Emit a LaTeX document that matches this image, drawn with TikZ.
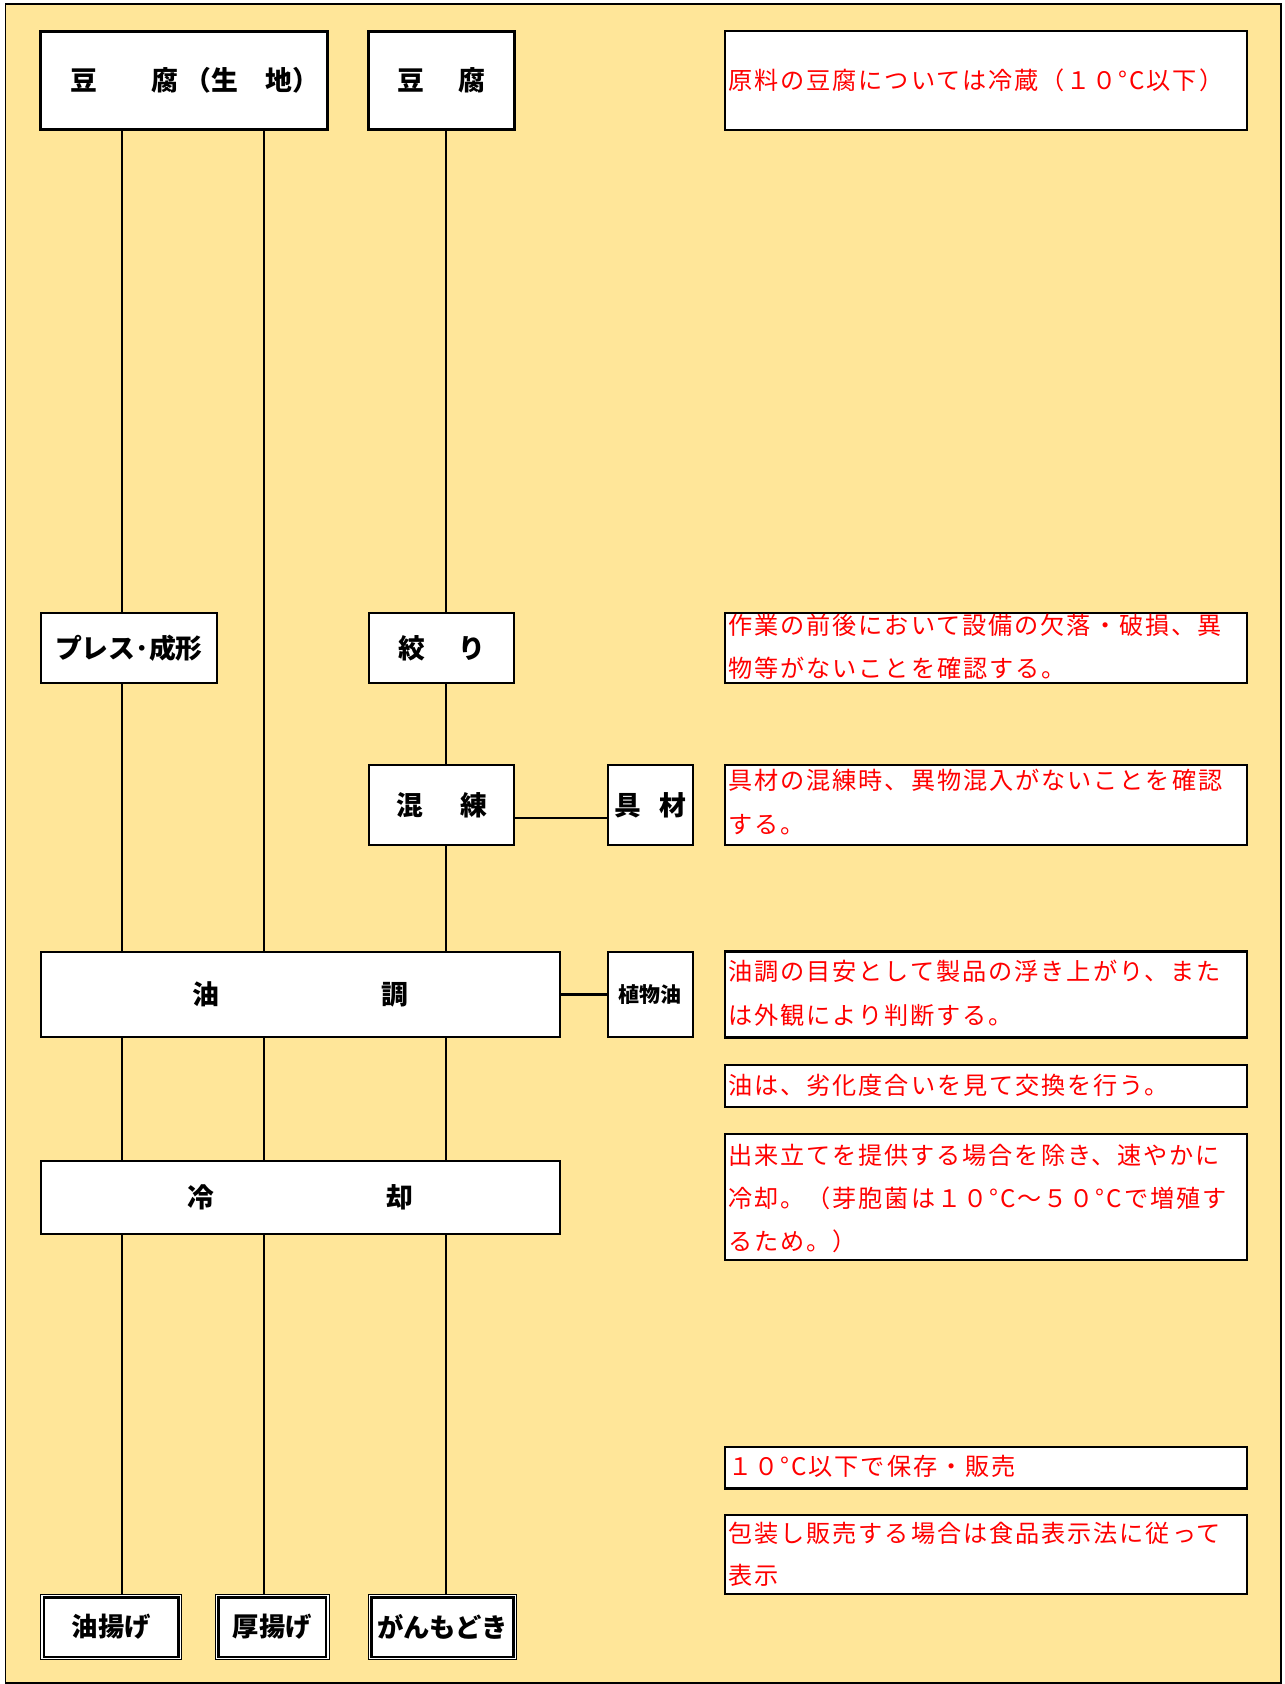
\documentclass[tikz,border=0pt]{standalone}
\usepackage{fontspec}
\setmainfont{Noto Sans CJK JP}
\newfontfamily\notefont[LetterSpace=8]{Noto Sans CJK JP}
\usetikzlibrary{calc}
\definecolor{bgyellow}{RGB}{255,230,153}
\definecolor{notered}{RGB}{255,0,0}
\begin{document}
\begin{tikzpicture}[x=1pt,y=-1pt,
  box/.style={draw=black, fill=white, line width=1.9pt, inner sep=0pt,
    font=\fontsize{25}{30}\selectfont\bfseries},
  topbox/.style={box, line width=2.8pt},
  endbox/.style={box, line width=1.1pt, font=\fontsize{24.5}{28}\selectfont\bfseries},
  notebox/.style={draw=black, fill=white, line width=2pt, inner sep=0pt},
  notetext/.style={anchor=base west, inner sep=0pt, text=notered,
    font=\notefont\fontsize{22.5}{40}\selectfont},
  link/.style={line width=1.9pt},
  inner/.style={line width=2.4pt}
]
\useasboundingbox (0,0) rectangle (1196,1568);
\draw[fill=bgyellow, line width=1.6pt] (5,4) rectangle (1193,1567);

% process boxes
\node[topbox, minimum width=267, minimum height=92] (A) at (171.5,75)
  {\hspace*{20pt}豆\hspace{2em}腐\hspace{0.25em}（生　地）};
\node[topbox, minimum width=136, minimum height=92] (B) at (411,75)
  {豆\hspace{1.3em}腐};
\node[box, minimum width=164, minimum height=65] (P) at (120,603.5) {プレス･成形};
\node[box, minimum width=135, minimum height=65] (S) at (411.5,603.5) {絞\hspace{1.2em}り};
\node[box, minimum width=135, minimum height=75] (K) at (411.5,749.5) {混\hspace{1.4em}練};
\node[box, minimum width=79, minimum height=75] (G) at (605.5,749.5) {具\hspace{0.65em}材};
\node[box, minimum width=483, minimum height=80] (Y) at (279.5,926) {油\hspace{151pt}調};
\node[box, minimum width=79, minimum height=80, font=\fontsize{19.5}{24}\selectfont\bfseries] (V) at (605.5,926) {植物油};
\node[box, minimum width=483, minimum height=68] (R) at (279.5,1115) {冷\hspace{160pt}却};
\node[endbox, minimum width=131, minimum height=61] (O1) at (103.5,1515) {油揚げ};
\node[endbox, minimum width=106, minimum height=61] (O2) at (253.5,1515) {厚揚げ};
\node[endbox, minimum width=138, minimum height=61] (O3) at (412,1515) {がんもどき};
\foreach \b in {O1,O2,O3}
  \draw[inner] ($(\b.south west)+(3.4pt,3.4pt)$) rectangle ($(\b.north east)+(-3.4pt,-3.4pt)$);

% connectors
\coordinate (c1) at (114,0);
\coordinate (c2) at (246,0);
\coordinate (c3) at (415,0);
\coordinate (h1) at (0,762);
\draw[link] (A.south -| c1) -- (P.north -| c1);
\draw[link] (P.south -| c1) -- (Y.north -| c1);
\draw[link] (Y.south -| c1) -- (R.north -| c1);
\draw[link] (R.south -| c1) -- (O1.north -| c1);
\draw[link] (A.south -| c2) -- (Y.north -| c2);
\draw[link] (Y.south -| c2) -- (R.north -| c2);
\draw[link] (R.south -| c2) -- (O2.north -| c2);
\draw[link] (B.south -| c3) -- (S.north -| c3);
\draw[link] (S.south -| c3) -- (K.north -| c3);
\draw[link] (K.south -| c3) -- (Y.north -| c3);
\draw[link] (Y.south -| c3) -- (R.north -| c3);
\draw[link] (R.south -| c3) -- (O3.north -| c3);
\draw[link] (K.east |- h1) -- (G.west |- h1);
\draw[link] (Y.east |- V.west) -- (V.west);

% notes
\node[notebox, minimum width=486, minimum height=92] (n1) at (918,75) {};
\node[notetext] (n1a) at (678,83.5) {原料の豆腐については冷蔵（１０°C以下）};

\node[notebox, minimum width=486, minimum height=65] (n2) at (918,603.5) {};
\node[notetext] (n2a) at (678,590.5) {作業の前後において設備の欠落・破損、異};
\node[notetext] (n2b) at (678,630.5) {物等がないことを確認する。};

\node[notebox, minimum width=486, minimum height=75] (n3) at (918,749.5) {};
\node[notetext] (n3a) at (678,735.5) {具材の混練時、異物混入がないことを確認};
\node[notetext] (n3b) at (678,776.5) {する。};

\node[notebox, minimum width=486, minimum height=80] (n4) at (918,926) {};
\node[notetext] (n4a) at (678,912.5) {油調の目安として製品の浮き上がり、また};
\node[notetext] (n4b) at (678,953.5) {は外観により判断する。};

\node[notebox, minimum width=486, minimum height=39] (n5) at (918,1011.5) {};
\node[notetext] (n5a) at (678,1019.5) {油は、劣化度合いを見て交換を行う。};

\node[notebox, minimum width=486, minimum height=117] (n6) at (918,1114.5) {};
\node[notetext] (n6a) at (678,1084.5) {出来立てを提供する場合を除き、速やかに};
\node[notetext] (n6b) at (678,1124.5) {冷却。（芽胞菌は１０°C～５０°Cで増殖す};
\node[notetext] (n6c) at (678,1164.5) {るため。）};

\node[notebox, minimum width=486, minimum height=39] (n7) at (918,1366.5) {};
\node[notetext] (n7a) at (678,1373.5) {１０°C以下で保存・販売};

\node[notebox, minimum width=486, minimum height=73] (n8) at (918,1447.5) {};
\node[notetext] (n8a) at (678,1436.5) {包装し販売する場合は食品表示法に従って};
\node[notetext] (n8b) at (678,1475.5) {表示};
\end{tikzpicture}
\end{document}
